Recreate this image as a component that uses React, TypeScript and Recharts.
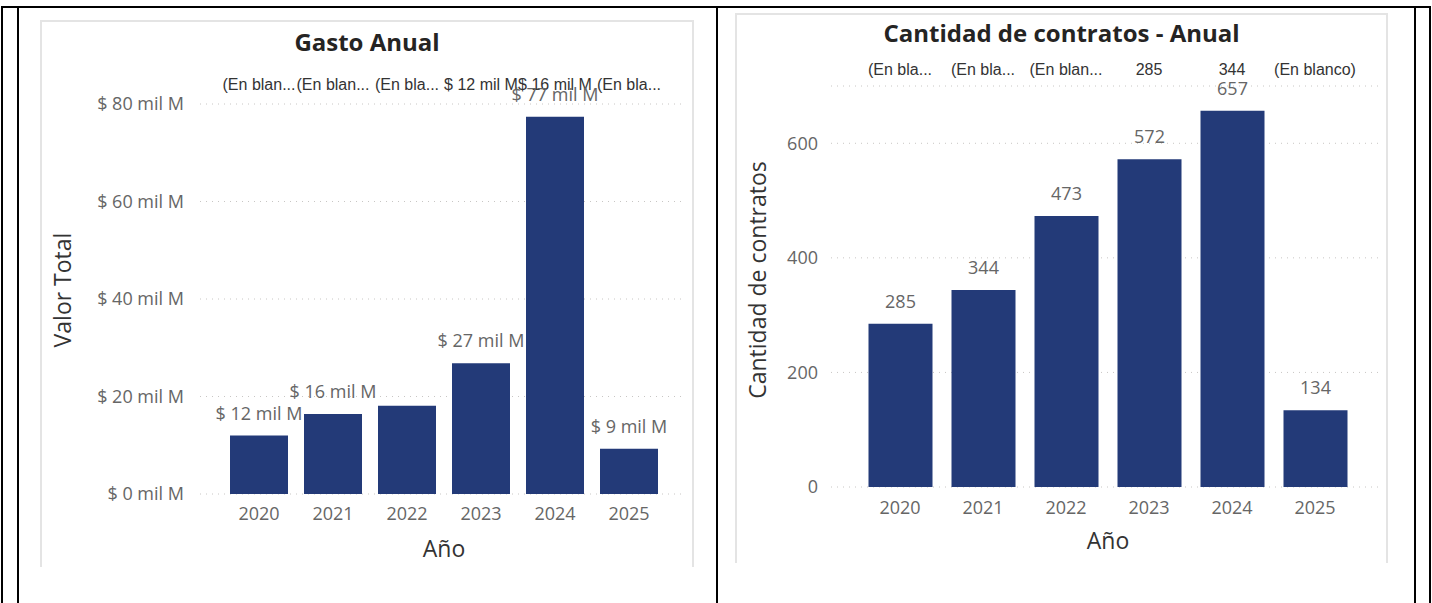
import React from "react";
import { BarChart, Bar, XAxis, YAxis, CartesianGrid, LabelList } from "recharts";

// años (eje X compartido)
const anios = ["2020", "2021", "2022", "2023", "2024", "2025"];

// Gasto anual, en miles de millones
const gastoMilM = [12.0, 16.4, 18.1, 26.8, 77.4, 9.3];
const gastoEtiquetaVisible = [true, true, false, true, true, true];
const gastoFilaSuperior = ["(En blan...", "(En blan...", "(En bla...", "$ 12 mil M", "$ 16 mil M", "(En bla..."];
const gastoTicks = [0, 20, 40, 60, 80];

// Cantidad de contratos
const contratos = [285, 344, 473, 572, 657, 134];
const contratosFilaSuperior = ["(En bla...", "(En bla...", "(En blan...", "285", "344", "(En blanco)"];
const contratosTicks = [0, 200, 400, 600];

const AZUL = "#233a78";
const FUENTE = "'Segoe UI', 'Open Sans', sans-serif";
const GRIS = "#666666";
const OSCURO = "#252423";

const gastoData = anios.map((anio, i) => ({
  anio,
  valor: gastoMilM[i],
  etiqueta: gastoEtiquetaVisible[i] ? `$ ${Math.round(gastoMilM[i])} mil M` : "",
}));

const contratosData = anios.map((anio, i) => ({
  anio,
  valor: contratos[i],
  etiqueta: String(contratos[i]),
}));

// etiqueta de dato sin salto de línea, centrada sobre la barra
const renderEtiqueta = (props: any) => {
  const { x, y, width, value } = props;
  if (!value) return null;
  return (
    <text
      x={Number(x) + Number(width) / 2}
      y={Number(y) - 16}
      textAnchor="middle"
      fill={GRIS}
      fontSize={18}
      fontFamily={FUENTE}
    >
      {value}
    </text>
  );
};

function Linea({ x, y, w, h }: { x: number; y: number; w: number; h: number }) {
  return <div style={{ position: "absolute", left: x, top: y, width: w, height: h, background: "#000" }} />;
}

function Tarjeta({
  left,
  top,
  width,
  height,
  titulo,
  tituloY,
  ejeY,
  ejeYPos,
  anioPos,
  children,
}: {
  left: number;
  top: number;
  width: number;
  height: number;
  titulo: string;
  tituloY: number;
  ejeY: string;
  ejeYPos: [number, number];
  anioPos: [number, number];
  children: React.ReactNode;
}) {
  return (
    <div style={{ position: "absolute", left, top, width, height }}>
      <div
        style={{
          position: "absolute",
          inset: 0,
          borderTop: "2px solid #e4e4e4",
          borderLeft: "2px solid #e4e4e4",
          borderRight: "2px solid #e4e4e4",
        }}
      />
      {children}
      <div
        style={{
          position: "absolute",
          left: 0,
          width,
          top: tituloY,
          transform: "translateY(-50%)",
          textAlign: "center",
          fontFamily: FUENTE,
          fontWeight: 700,
          fontSize: 24,
          lineHeight: "28px",
          color: OSCURO,
          whiteSpace: "nowrap",
        }}
      >
        {titulo}
      </div>
      <div
        style={{
          position: "absolute",
          left: ejeYPos[0],
          top: ejeYPos[1],
          transform: "translate(-50%, -50%) rotate(-90deg)",
          fontFamily: FUENTE,
          fontSize: 23,
          lineHeight: "28px",
          color: "#333",
          whiteSpace: "nowrap",
        }}
      >
        {ejeY}
      </div>
      <div
        style={{
          position: "absolute",
          left: anioPos[0],
          top: anioPos[1],
          transform: "translate(-50%, -50%)",
          fontFamily: FUENTE,
          fontSize: 23,
          lineHeight: "28px",
          color: "#333",
          whiteSpace: "nowrap",
        }}
      >
        Año
      </div>
    </div>
  );
}

function GastoAnual() {
  return (
    <BarChart width={654} height={547} data={gastoData} margin={{ top: 54, right: 9, bottom: 33, left: 0 }}>
      <CartesianGrid vertical={false} stroke="#c8c6c4" strokeDasharray="1 5" />
      <XAxis
        dataKey="anio"
        height={40}
        padding={{ left: 22, right: 19 }}
        axisLine={false}
        tickLine={false}
        tickSize={0}
        tickMargin={13}
        interval={0}
        tick={{ fill: GRIS, fontSize: 18, fontFamily: FUENTE }}
      />
      <XAxis
        xAxisId="sup"
        dataKey="anio"
        orientation="top"
        height={30}
        padding={{ left: 22, right: 19 }}
        axisLine={false}
        tickLine={false}
        tickSize={0}
        tickMargin={14}
        interval={0}
        tickFormatter={(_v: string, i: number) => gastoFilaSuperior[i]}
        tick={{ fill: "#333", fontSize: 16, fontFamily: "'Liberation Sans', Arial, sans-serif" }}
      />
      <YAxis
        width={160}
        domain={[0, 80]}
        ticks={gastoTicks}
        axisLine={false}
        tickLine={false}
        tickSize={0}
        tickMargin={16}
        tickFormatter={(v: number) => `$ ${v} mil M`}
        tick={{ fill: GRIS, fontSize: 18, fontFamily: FUENTE }}
      />
      <Bar dataKey="valor" fill={AZUL} barSize={58} isAnimationActive={false}>
        <LabelList dataKey="etiqueta" content={renderEtiqueta} />
      </Bar>
    </BarChart>
  );
}

function ContratosAnual() {
  return (
    <BarChart width={653} height={550} data={contratosData} margin={{ top: 43, right: 6, bottom: 36, left: 0 }}>
      <CartesianGrid vertical={false} stroke="#c8c6c4" strokeDasharray="1 5" />
      <XAxis
        dataKey="anio"
        height={40}
        padding={{ left: 27.5, right: 25.5 }}
        axisLine={false}
        tickLine={false}
        tickSize={0}
        tickMargin={14}
        interval={0}
        tick={{ fill: GRIS, fontSize: 18, fontFamily: FUENTE }}
      />
      <XAxis
        xAxisId="sup"
        dataKey="anio"
        orientation="top"
        height={30}
        padding={{ left: 27.5, right: 25.5 }}
        axisLine={false}
        tickLine={false}
        tickSize={0}
        tickMargin={11}
        interval={0}
        tickFormatter={(_v: string, i: number) => contratosFilaSuperior[i]}
        tick={{ fill: "#333", fontSize: 16, fontFamily: "'Liberation Sans', Arial, sans-serif" }}
      />
      <YAxis
        width={96}
        domain={[0, 700]}
        ticks={contratosTicks}
        axisLine={false}
        tickLine={false}
        tickSize={0}
        tickMargin={13}
        tick={{ fill: GRIS, fontSize: 18, fontFamily: FUENTE }}
      />
      <Bar dataKey="valor" fill={AZUL} barSize={64} isAnimationActive={false}>
        <LabelList dataKey="etiqueta" content={renderEtiqueta} />
      </Bar>
    </BarChart>
  );
}

export default function App() {
  return (
    <div
      style={{
        position: "absolute",
        left: 0,
        top: 0,
        width: 1432,
        height: 603,
        background: "#fff",
        overflow: "hidden",
      }}
    >
      {/* bordes de la tabla del documento */}
      <Linea x={1} y={6} w={1430} h={2} />
      <Linea x={1} y={6} w={2} h={600} />
      <Linea x={17} y={6} w={2} h={600} />
      <Linea x={716} y={6} w={2} h={600} />
      <Linea x={1414} y={6} w={2} h={600} />
      <Linea x={1429} y={6} w={2} h={600} />

      <Tarjeta
        left={40}
        top={20}
        width={654}
        height={547}
        titulo="Gasto Anual"
        tituloY={22}
        ejeY="Valor Total"
        ejeYPos={[22, 270]}
        anioPos={[404, 528]}
      >
        <GastoAnual />
      </Tarjeta>

      <Tarjeta
        left={735}
        top={13}
        width={653}
        height={550}
        titulo="Cantidad de contratos - Anual"
        tituloY={20}
        ejeY="Cantidad de contratos"
        ejeYPos={[22, 267]}
        anioPos={[373, 527]}
      >
        <ContratosAnual />
      </Tarjeta>
    </div>
  );
}
